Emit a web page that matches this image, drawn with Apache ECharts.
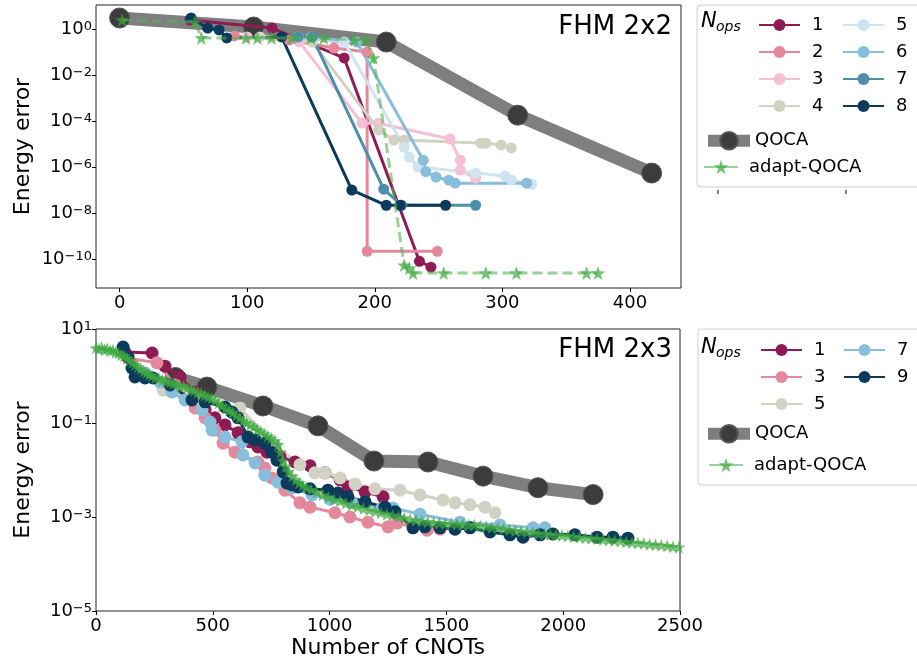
<!DOCTYPE html>
<html><head><meta charset="utf-8">
<script src="https://cdn.jsdelivr.net/npm/echarts@6/dist/echarts.min.js"></script>
<style>html,body{margin:0;padding:0;background:#fff}#c{width:917px;height:663px}</style>
</head><body><div id="c"></div>
<script>
// ---------------- DATA ----------------
// FHM 2x2 (top)
const qocaTopX = [0, 105, 209, 312, 417];
const qocaTopY = [3.0, 1.22, 0.27, 1.8e-4, 5.5e-7];
const adaptTopX = [2, 59, 64, 99, 108, 119, 135, 150, 160, 184, 193, 199, 223, 227, 230, 254, 287, 311, 366, 375];
const adaptTopY = [2.45, 2.0, 0.41, 0.41, 0.41, 0.41, 0.41, 0.41, 0.41, 0.33, 0.33, 0.055, 5.5e-11, 4.1e-11, 2.5e-11, 2.5e-11, 2.5e-11, 2.5e-11, 2.5e-11, 2.5e-11];
const n1TopX = [55, 119.5, 176, 235, 244];
const n1TopY = [2.45, 1.1, 0.055, 8.1e-11, 4.5e-11];
const n2TopX = [90, 133, 168, 194, 194, 249];
const n2TopY = [0.5, 0.33, 0.148, 0.1, 2.2e-10, 2.2e-10];
const n3TopX = [100, 141, 190, 203, 259, 267, 267, 279];
const n3TopY = [0.45, 0.27, 8.1e-5, 8.1e-5, 1.66e-5, 2.0e-6, 7.4e-7, 3.3e-7];
const n4TopX = [110, 151, 203, 215, 223, 283, 287, 299, 307];
const n4TopY = [0.45, 0.27, 4.1e-5, 1.5e-5, 1.5e-5, 1.1e-5, 1.1e-5, 9.1e-6, 6.8e-6];
const n5TopX = [140, 176, 223, 227, 234, 279, 302, 307, 323];
const n5TopY = [0.45, 0.27, 7.4e-6, 2.7e-6, 1.0e-6, 5.5e-7, 4.1e-7, 2.7e-7, 1.8e-7];
const n6TopX = [150, 186, 238, 240, 248, 258, 263, 319];
const n6TopY = [0.45, 0.27, 2.0e-6, 6.3e-7, 3.7e-7, 2.7e-7, 2.0e-7, 2.0e-7];
const n7TopX = [140, 151, 207, 221, 279];
const n7TopY = [0.45, 0.45, 1.1e-7, 2.2e-8, 2.2e-8];
const n8TopX = [56, 69, 78, 84, 127, 182, 209, 220, 255.5];
const n8TopY = [3.0, 1.1, 0.91, 0.41, 0.45, 1.0e-7, 2.2e-8, 2.2e-8, 2.2e-8];

// FHM 2x3 (bottom)
const qocaBotX = [340, 475, 715, 950, 1190, 1421, 1657, 1892, 2128];
const qocaBotY = [0.93, 0.58, 0.23, 0.087, 0.0155, 0.0148, 0.0074, 0.0042, 0.003];
const n1BotX = [124, 240, 295, 360, 424, 467, 509, 552, 608, 659, 693, 732, 788, 852, 916, 980, 1045, 1079, 1152, 1229];
const n1BotY = [3.24, 3.09, 1.62, 0.955, 0.457, 0.191, 0.129, 0.0912, 0.0617, 0.0398, 0.0309, 0.024, 0.0191, 0.0148, 0.0123, 0.00871, 0.00617, 0.00437, 0.00339, 0.00269];
const n3BotX = [137, 261, 338, 424, 467, 509, 544, 595, 693, 723, 753, 809, 873, 916, 1023, 1087, 1164, 1250, 1289, 1417, 1473];
const n3BotY = [2.4, 1.91, 0.646, 0.209, 0.129, 0.0708, 0.0372, 0.024, 0.0148, 0.011, 0.00676, 0.00372, 0.002, 0.00162, 0.00123, 0.001, 0.000776, 0.000617, 0.000741, 0.000525, 0.00055];
const n5BotX = [287, 445, 616, 766, 873, 937, 980, 1045, 1109, 1194, 1301, 1387, 1485, 1537, 1601, 1665, 1708];
const n5BotY = [0.501, 0.309, 0.209, 0.0339, 0.0129, 0.00871, 0.00871, 0.00676, 0.00501, 0.00398, 0.00372, 0.00295, 0.00229, 0.002, 0.00182, 0.00162, 0.00123];
const n7BotX = [210, 274, 325, 381, 454, 488, 497, 552, 625, 629, 681, 723, 779, 839, 925, 1002, 1096, 1224, 1271, 1387, 1558, 1729, 1871, 1922];
const n7BotY = [1.15, 0.741, 0.457, 0.309, 0.191, 0.105, 0.0708, 0.0501, 0.0398, 0.0209, 0.0141, 0.00776, 0.0055, 0.00417, 0.00295, 0.0024, 0.002, 0.00155, 0.00155, 0.00115, 0.000776, 0.000676, 0.000589, 0.000589];
const n9BotX = [116, 137, 154, 167, 210, 244, 317, 411, 467, 552, 582, 608, 651, 681, 723, 753, 775, 801, 818, 839, 865, 916, 993, 1036, 1079, 1152, 1237, 1280, 1357, 1408, 1473, 1537, 1601, 1687, 1772, 1828, 1901, 1956, 2050, 2145, 2213, 2277];
const n9BotY = [4.14, 2.54, 1.48, 0.955, 0.912, 0.912, 0.646, 0.309, 0.282, 0.219, 0.17, 0.129, 0.0501, 0.0437, 0.0372, 0.024, 0.0162, 0.00912, 0.00525, 0.00479, 0.00437, 0.00398, 0.00372, 0.00324, 0.00269, 0.00209, 0.00162, 0.00129, 0.000589, 0.000617, 0.000589, 0.00055, 0.000589, 0.000479, 0.000417, 0.000372, 0.000417, 0.000437, 0.000417, 0.000372, 0.000372, 0.000355];
const adaptBotX = [0, 12, 24, 36, 48, 60, 72, 84, 96, 108, 120, 132, 144, 156, 168, 180, 192, 204, 216, 228, 240, 255, 270, 285, 300, 315, 330, 345, 360, 375, 390, 405, 420, 435, 450, 465, 480, 495, 510, 525, 540, 555, 570, 585, 600, 615, 630, 645, 660, 675, 690, 705, 720, 735, 750, 765, 780, 790, 800, 812, 825, 840, 855, 870, 885, 900, 920, 945, 970, 995, 1020, 1045, 1070, 1095, 1120, 1145, 1170, 1195, 1220, 1245, 1270, 1295, 1320, 1345, 1370, 1395, 1420, 1445, 1470, 1495, 1520, 1545, 1570, 1595, 1620, 1645, 1670, 1695, 1720, 1745, 1770, 1795, 1820, 1845, 1870, 1895, 1920, 1945, 1970, 1995, 2020, 2045, 2070, 2095, 2120, 2145, 2170, 2195, 2220, 2245, 2270, 2295, 2320, 2345, 2370, 2395, 2420, 2445, 2470, 2495];
const adaptBotY = [3.98, 3.72, 4.07, 3.63, 3.8, 3.47, 3.55, 3.16, 3.09, 2.82, 2.69, 2.4, 2.14, 1.95, 1.74, 1.58, 1.41, 1.26, 1.17, 1.07, 1.02, 0.933, 0.891, 0.813, 0.776, 0.741, 0.692, 0.661, 0.617, 0.603, 0.55, 0.525, 0.49, 0.447, 0.427, 0.389, 0.363, 0.339, 0.302, 0.263, 0.234, 0.204, 0.186, 0.166, 0.145, 0.129, 0.112, 0.102, 0.0912, 0.0832, 0.0724, 0.0661, 0.0589, 0.0525, 0.0479, 0.0417, 0.0347, 0.024, 0.0158, 0.012, 0.00933, 0.00741, 0.00617, 0.00537, 0.00468, 0.00427, 0.0038, 0.00339, 0.00295, 0.00263, 0.00234, 0.00219, 0.00195, 0.00182, 0.00166, 0.00151, 0.00141, 0.00132, 0.00123, 0.00115, 0.0011, 0.00102, 0.000955, 0.000891, 0.000851, 0.000813, 0.000794, 0.000759, 0.000741, 0.000724, 0.000724, 0.000708, 0.000692, 0.000676, 0.000676, 0.000646, 0.000631, 0.000603, 0.000589, 0.000562, 0.000537, 0.000513, 0.000501, 0.000479, 0.000468, 0.000447, 0.000437, 0.000427, 0.000417, 0.000407, 0.000398, 0.00038, 0.000372, 0.000363, 0.000355, 0.000347, 0.000331, 0.000324, 0.000316, 0.000309, 0.000295, 0.000288, 0.000282, 0.000275, 0.000263, 0.000257, 0.000251, 0.000245, 0.000234, 0.000229];

// tick values
const topXTicks = [0, 100, 200, 300, 400];
const topYTicks = [1e-10, 1e-8, 1e-6, 1e-4, 1e-2, 1];
const botYTicks = [1e-5, 1e-3, 1e-1, 10];

// ---------------- STYLE ----------------
const FONT = 'DejaVu Sans';
const C = {
  1: '#8e1b54', 2: '#e4899b', 3: '#f5c0d4', 4: '#d2d2c4',
  5: '#cfe3f0', 6: '#88bddb', 7: '#4b8fab', 8: '#0b3a5b'
};
const STAR = 'path://M0,-10L2.35,-3.24L9.51,-3.09L3.8,1.24L5.88,8.09L0,4L-5.88,8.09L-3.8,1.24L-9.51,-3.09L-2.35,-3.24Z';

function pairs(xs, ys) { return xs.map((x, i) => [x, ys[i]]); }
function nops(name, xs, ys, color, g, size) {
  return { type: 'line', name, xAxisIndex: g, yAxisIndex: g, data: pairs(xs, ys),
    symbol: 'circle', symbolSize: size, lineStyle: { width: 3, color },
    itemStyle: { color }, animation: false, z: 3 };
}
function qoca(xs, ys, g) {
  return { type: 'line', name: 'QOCA', xAxisIndex: g, yAxisIndex: g, data: pairs(xs, ys),
    symbol: 'circle', symbolSize: 20, lineStyle: { width: 13, color: '#7f7f7f' },
    itemStyle: { color: '#3c3c3c', borderColor: '#555', borderWidth: 1 }, animation: false, z: 2 };
}
function adapt(xs, ys, g, size) {
  return { type: 'line', name: 'adapt-QOCA', xAxisIndex: g, yAxisIndex: g, data: pairs(xs, ys),
    symbol: STAR, symbolSize: size,
    lineStyle: { width: 3, color: '#55b355', opacity: 0.6, type: [10, 5] },
    itemStyle: { color: '#3ea83e', opacity: 0.7 }, animation: false, z: 4 };
}
function sup(v) {
  const e = Math.round(Math.log10(v));
  return '{b|10}{s|' + (e < 0 ? '\u2212' + (-e) : String(e)) + '}';
}
function yAx(grid, min, max, ticks) {
  return { type: 'log', logBase: 10, gridIndex: grid, min, max,
    axisLine: { show: false, onZero: false }, splitLine: { show: false },
    axisTick: { customValues: ticks, length: 4, lineStyle: { color: '#000', width: 1 } },
    axisLabel: { customValues: ticks, formatter: sup, margin: 4,
      rich: { b: { fontSize: 18, fontFamily: FONT, color: '#000' },
              s: { fontSize: 13, fontFamily: FONT, color: '#000', verticalAlign: 'top', lineHeight: 13 } } },
    name: 'Energy error', nameLocation: 'middle', nameGap: 62, nameMoveOverlap: false,
    nameTextStyle: { fontSize: 22, fontFamily: FONT, color: '#000' } };
}
function legText(pad) { return { fontSize: 18, fontFamily: FONT, color: '#000', lineHeight: 18, padding: [0, 0, 0, pad] }; }

const option = {
  backgroundColor: '#fff',
  animation: false,
  grid: [
    { left: 96, top: 5, width: 585, height: 283, show: true, borderColor: '#222', borderWidth: 1 },
    { left: 96, top: 329, width: 584, height: 282, show: true, borderColor: '#222', borderWidth: 1 }
  ],
  xAxis: [
    { type: 'value', gridIndex: 0, min: -18.5, max: 440,
      axisLine: { show: false, onZero: false }, splitLine: { show: false },
      axisTick: { customValues: topXTicks, length: 4, lineStyle: { color: '#000', width: 1 } },
      axisLabel: { customValues: topXTicks, fontSize: 18, fontFamily: FONT, color: '#000', margin: 6 } },
    { type: 'value', gridIndex: 1, min: 0, max: 2500, interval: 500,
      axisLine: { show: false, onZero: false }, splitLine: { show: false },
      axisTick: { length: 4, lineStyle: { color: '#000', width: 1 } },
      axisLabel: { fontSize: 18, fontFamily: FONT, color: '#000', margin: 6, formatter: v => String(v) },
      name: 'Number of CNOTs', nameLocation: 'middle', nameGap: 26,
      nameTextStyle: { fontSize: 22, fontFamily: FONT, color: '#000' } }
  ],
  yAxis: [ yAx(0, 5.6e-12, 11, topYTicks), yAx(1, 1e-5, 10, botYTicks) ],
  legend: [
    { data: ['1', '2', '3', '4'], left: 758, top: 16, orient: 'vertical', padding: 0, itemGap: 9,
      itemWidth: 41, itemHeight: 15, textStyle: legText(7) },
    { data: ['5', '6', '7', '8'], left: 842, top: 16, orient: 'vertical', padding: 0, itemGap: 9,
      itemWidth: 41, itemHeight: 15, textStyle: legText(7) },
    { data: ['QOCA'], left: 702, top: 131, padding: 0, itemWidth: 42, itemHeight: 22,
      lineStyle: { width: 12 }, textStyle: legText(0) },
    { data: ['adapt-QOCA'], left: 703, top: 158, padding: 0, itemWidth: 34, itemHeight: 18,
      lineStyle: { type: 'solid' }, textStyle: legText(6) },
    { data: ['b1', 'b3', 'b5'], left: 760, top: 341, orient: 'vertical', padding: 0, itemGap: 9,
      itemWidth: 41, itemHeight: 15, formatter: n => n.slice(1), textStyle: legText(7) },
    { data: ['b7', 'b9'], left: 843, top: 341, orient: 'vertical', padding: 0, itemGap: 9,
      itemWidth: 41, itemHeight: 15, formatter: n => n.slice(1), textStyle: legText(7) },
    { data: ['QOCA'], left: 702, top: 424, padding: 0, itemWidth: 42, itemHeight: 22,
      lineStyle: { width: 12 }, textStyle: legText(0) },
    { data: ['adapt-QOCA'], left: 708, top: 456, padding: 0, itemWidth: 34, itemHeight: 18,
      lineStyle: { type: 'solid' }, textStyle: legText(6) }
  ],
  graphic: [
    { type: 'rect', shape: { x: 697, y: 5, width: 240, height: 182, r: 4 }, style: { fill: '#fff', stroke: '#d0d0d0', lineWidth: 1 }, z: -1 },
    { type: 'rect', shape: { x: 698, y: 329, width: 240, height: 156, r: 4 }, style: { fill: '#fff', stroke: '#d0d0d0', lineWidth: 1 }, z: -1 },
    { type: 'text', x: 701, y: 22, style: { text: 'N', fontSize: 21, fontStyle: 'italic', fontFamily: FONT, fill: '#000', verticalAlign: 'middle' } },
    { type: 'text', x: 716, y: 27, style: { text: 'ops', fontSize: 14, fontStyle: 'italic', fontFamily: FONT, fill: '#000', verticalAlign: 'middle' } },
    { type: 'text', x: 701, y: 348, style: { text: 'N', fontSize: 21, fontStyle: 'italic', fontFamily: FONT, fill: '#000', verticalAlign: 'middle' } },
    { type: 'text', x: 716, y: 353, style: { text: 'ops', fontSize: 14, fontStyle: 'italic', fontFamily: FONT, fill: '#000', verticalAlign: 'middle' } },
    { type: 'text', x: 672, y: 27, style: { text: 'FHM 2x2', fontSize: 26, fontFamily: FONT, fill: '#000', align: 'right', verticalAlign: 'middle' } },
    { type: 'text', x: 672, y: 350, style: { text: 'FHM 2x3', fontSize: 26, fontFamily: FONT, fill: '#000', align: 'right', verticalAlign: 'middle' } },
    { type: 'line', shape: { x1: 718, y1: 190, x2: 718, y2: 194 }, style: { stroke: '#000', lineWidth: 1 } },
    { type: 'line', shape: { x1: 846, y1: 190, x2: 846, y2: 194 }, style: { stroke: '#000', lineWidth: 1 } }
  ],
  series: [
    qoca(qocaTopX, qocaTopY, 0),
    nops('1', n1TopX, n1TopY, C[1], 0, 11),
    nops('2', n2TopX, n2TopY, C[2], 0, 11),
    nops('3', n3TopX, n3TopY, C[3], 0, 11),
    nops('4', n4TopX, n4TopY, C[4], 0, 11),
    nops('5', n5TopX, n5TopY, C[5], 0, 11),
    nops('6', n6TopX, n6TopY, C[6], 0, 11),
    nops('7', n7TopX, n7TopY, C[7], 0, 11),
    nops('8', n8TopX, n8TopY, C[8], 0, 11),
    adapt(adaptTopX, adaptTopY, 0, 14),
    qoca(qocaBotX, qocaBotY, 1),
    nops('b1', n1BotX, n1BotY, C[1], 1, 13),
    nops('b3', n3BotX, n3BotY, C[2], 1, 13),
    nops('b5', n5BotX, n5BotY, C[4], 1, 13),
    nops('b7', n7BotX, n7BotY, C[6], 1, 13),
    nops('b9', n9BotX, n9BotY, C[8], 1, 13),
    adapt(adaptBotX, adaptBotY, 1, 13)
  ]
};
const chart = echarts.init(document.getElementById('c'), null, { renderer: 'canvas' });
chart.setOption(option);
</script></body></html>
